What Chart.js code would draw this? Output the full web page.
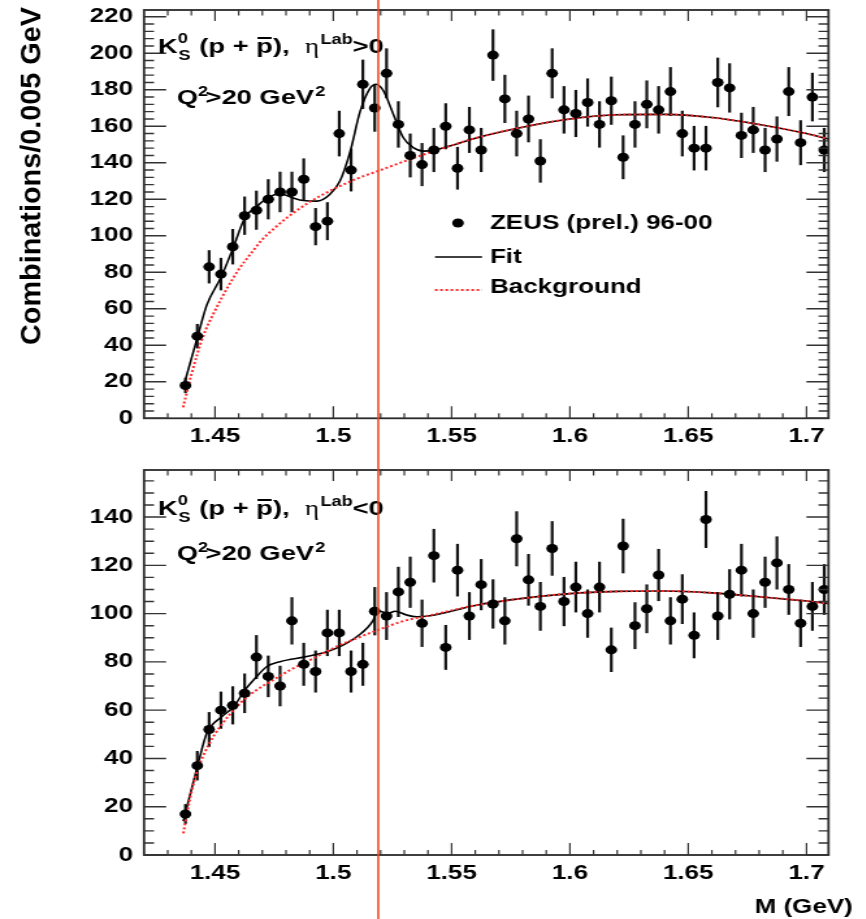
<!DOCTYPE html>
<html>
<head>
<meta charset="utf-8">
<script src="https://cdn.jsdelivr.net/npm/chart.js@4.4.0/dist/chart.umd.min.js"></script>
<style>
  html, body { margin: 0; padding: 0; background: #fff; }
  #page { position: relative; width: 866px; height: 919px; overflow: hidden; background: #fff; }
  .panel { position: absolute; left: 0; width: 666px; transform: scaleX(1.3); transform-origin: 0 0; }
  #panelTop { top: 0; height: 460px; }
  #panelBottom { top: 460px; height: 459px; }
  canvas { display: block; }
</style>
</head>
<body>
<div id="page">
  <div class="panel" id="panelTop"><canvas id="cTop" width="666" height="460"></canvas></div>
  <div class="panel" id="panelBottom"><canvas id="cBottom" width="666" height="459"></canvas></div>
</div>
<script>
// K0s p(pbar) invariant mass, 5 MeV bins
const massBins = [
  1.4375, 1.4425, 1.4475, 1.4525, 1.4575, 1.4625, 1.4675, 1.4725, 1.4775, 1.4825,
  1.4875, 1.4925, 1.4975, 1.5025, 1.5075, 1.5125, 1.5175, 1.5225, 1.5275, 1.5325,
  1.5375, 1.5425, 1.5475, 1.5525, 1.5575, 1.5625, 1.5675, 1.5725, 1.5775, 1.5825,
  1.5875, 1.5925, 1.5975, 1.6025, 1.6075, 1.6125, 1.6175, 1.6225, 1.6275, 1.6325,
  1.6375, 1.6425, 1.6475, 1.6525, 1.6575, 1.6625, 1.6675, 1.6725, 1.6775, 1.6825,
  1.6875, 1.6925, 1.6975, 1.7025, 1.7075
];

// eta_Lab > 0
const countsFwd = [
  18, 45, 83, 79, 94, 111, 114, 120, 124, 124,
  131, 105, 108, 156, 136, 183, 170, 189, 161, 144,
  139, 147, 160, 137, 158, 147, 199, 175, 156, 164,
  141, 189, 169, 167, 173, 161, 174, 143, 161, 172,
  169, 179, 156, 148, 148, 184, 181, 155, 158, 147,
  153, 179, 151, 176, 147
];
const errorsFwd = [
  4.2, 6.7, 9.1, 8.9, 9.7, 10.5, 10.7, 11.0, 11.1, 11.1,
  11.4, 10.2, 10.4, 12.5, 11.7, 13.5, 13.0, 13.7, 12.7, 12.0,
  11.8, 12.1, 12.6, 11.7, 12.6, 12.1, 14.1, 13.2, 12.5, 12.8,
  11.9, 13.7, 13.0, 12.9, 13.2, 12.7, 13.2, 12.0, 12.7, 13.1,
  13.0, 13.4, 12.5, 12.2, 12.2, 13.6, 13.5, 12.4, 12.6, 12.1,
  12.4, 13.4, 12.3, 13.3, 12.1
];
const fitMassFwd = [
  1.4366, 1.4429, 1.4465, 1.4528, 1.4577, 1.4627, 1.4676, 1.4725, 1.4775, 1.4824,
  1.4873, 1.4930, 1.4986, 1.5028, 1.5071, 1.5113, 1.5155, 1.5180, 1.5211, 1.5254,
  1.5296, 1.5338, 1.5380, 1.5423, 1.5500, 1.5600, 1.5800, 1.6000, 1.6200, 1.6400,
  1.6600, 1.6800, 1.7000, 1.7093
];
const fitFwd = [
  17, 46, 62, 78, 93.5, 110, 116, 121, 123, 121,
  119.3, 119, 122.8, 130, 146, 168, 180.7, 183, 179.6, 166.5,
  153.7, 148.3, 146.4, 146.8, 149.5, 153.5, 159.5, 164, 166.3, 166.5,
  164.8, 161, 156, 153
];
const bgMassFwd = [
  1.4365, 1.4400, 1.4450, 1.4500, 1.4550, 1.4600, 1.4650, 1.4700, 1.4750, 1.4800,
  1.4900, 1.5000, 1.5100, 1.5200, 1.5300, 1.5400, 1.5500, 1.5600, 1.5800, 1.6000,
  1.6200, 1.6400, 1.6600, 1.6800, 1.7000, 1.7093
];
const bgFwd = [
  6, 24, 45, 59, 71, 81.5, 90, 98, 104, 109.5,
  118.5, 125.5, 131.3, 136, 140.8, 145.3, 149.5, 153.5, 159.5, 164,
  166.3, 166.5, 164.8, 161, 156, 153
];

// eta_Lab < 0
const countsBwd = [
  17, 37, 52, 60, 62, 67, 82, 74, 70, 97,
  79, 76, 92, 92, 76, 79, 101, 99, 109, 113,
  96, 124, 86, 118, 99, 112, 104, 97, 131, 114,
  103, 127, 105, 111, 100, 111, 85, 128, 95, 102,
  116, 97, 106, 91, 139, 99, 108, 118, 100, 113,
  121, 110, 96, 103, 110
];
const errorsBwd = [
  4.1, 6.1, 7.2, 7.7, 7.9, 8.2, 9.1, 8.6, 8.4, 9.8,
  8.9, 8.7, 9.6, 9.6, 8.7, 8.9, 10.0, 9.9, 10.4, 10.6,
  9.8, 11.1, 9.3, 10.9, 9.9, 10.6, 10.2, 9.8, 11.4, 10.7,
  10.1, 11.3, 10.2, 10.5, 10.0, 10.5, 9.2, 11.3, 9.7, 10.1,
  10.8, 9.8, 10.3, 9.5, 11.8, 9.9, 10.4, 10.9, 10.0, 10.6,
  11.0, 10.5, 9.8, 10.1, 10.5
];
const fitMassBwd = [
  1.4366, 1.4429, 1.4465, 1.4528, 1.4577, 1.4627, 1.4676, 1.4718, 1.4775, 1.4888,
  1.4972, 1.5028, 1.5099, 1.5169, 1.5186, 1.5232, 1.5261, 1.5310, 1.5352, 1.5409,
  1.5600, 1.5800, 1.6000, 1.6200, 1.6400, 1.6600, 1.6800, 1.7000, 1.7093
];
const fitBwd = [
  14, 38, 50.4, 57.3, 61.2, 68.4, 73.9, 78, 80.1, 82.2,
  84.2, 86.3, 90.4, 97.3, 101.2, 100.1, 101, 99.4, 98.7, 99.1,
  103.4, 106.3, 108.3, 109.2, 109.4, 108.6, 107, 105.2, 104.2
];
const bgMassBwd = [
  1.4366, 1.4400, 1.4429, 1.4475, 1.4521, 1.4606, 1.4676, 1.4746, 1.4817, 1.4888,
  1.4958, 1.5028, 1.5099, 1.5169, 1.5310, 1.5380, 1.5600, 1.5800, 1.6000, 1.6200,
  1.6400, 1.6600, 1.6800, 1.7000, 1.7093
];
const bgBwd = [
  9, 26, 36, 46, 53.1, 62.8, 68.4, 72.5, 76.6, 80.1,
  83.6, 87, 89.8, 92.5, 97.3, 98.7, 103.4, 106.3, 108.3, 109.2,
  109.4, 108.6, 107, 105.2, 104.2
];

// axis ticks
const massTicks = [1.45, 1.5, 1.55, 1.6, 1.65, 1.7];
const massTickLabels = ['1.45', '1.5', '1.55', '1.6', '1.65', '1.7'];
const countTicksFwd = [0, 20, 40, 60, 80, 100, 120, 140, 160, 180, 200, 220];
const countTicksBwd = [0, 20, 40, 60, 80, 100, 120, 140];

// nominal signal position (GeV)
const signalMass = 1.519;

const SANS = '"Liberation Sans", Arial, Helvetica, sans-serif';
const STRETCH = 1.3;

function toXY(xs, ys) { return xs.map((x, i) => ({ x: x, y: ys[i] })); }

function put(ctx, text, x, y, font) {
  ctx.font = font;
  ctx.fillText(text, x, y);
  return x + ctx.measureText(text).width;
}

function drawChannelLabel(ctx, x, y, sign) {
  const big = 'bold 21px ' + SANS;
  const small = 'bold 14px ' + SANS;
  const greek = '21px "Liberation Serif", "DejaVu Serif", serif';
  ctx.fillStyle = '#000';
  ctx.textAlign = 'left';
  ctx.textBaseline = 'alphabetic';
  x = put(ctx, 'K', x, y, big);
  const x0 = x;
  const w1 = put(ctx, '0', x0, y - 10, small) - x0;
  const w2 = put(ctx, 'S', x0 + 0.5, y + 7, small) - x0;
  x = x0 + Math.max(w1, w2) + 1;
  x = put(ctx, ' (p + ', x, y, big);
  const pStart = x;
  x = put(ctx, 'p', x, y, big);
  ctx.fillRect(pStart + 1, y - 16, x - pStart - 2, 2);
  x = put(ctx, '),  ', x, y, big);
  x = put(ctx, '\u03B7', x, y, greek);
  x = put(ctx, 'Lab', x + 1, y - 9, small);
  put(ctx, sign + '0', x, y, big);
}

function drawQ2Label(ctx, x, y) {
  const big = 'bold 21px ' + SANS;
  const small = 'bold 14px ' + SANS;
  ctx.fillStyle = '#000';
  ctx.textAlign = 'left';
  ctx.textBaseline = 'alphabetic';
  x = put(ctx, 'Q', x, y, big);
  x = put(ctx, '2', x, y - 8, small) - 2;
  x = put(ctx, '>20 GeV', x, y, big);
  put(ctx, '2', x + 1, y - 8, small);
}

function buildPanel(p) {
  const canvas = document.getElementById(p.canvasId);

  const decor = {
    id: 'decor',
    beforeDatasetsDraw(chart) {
      // statistical error bars
      const ctx = chart.ctx, xs = chart.scales.x, ys = chart.scales.y;
      ctx.save();
      ctx.strokeStyle = '#111';
      ctx.lineWidth = 2.2;
      massBins.forEach((m, i) => {
        const x = xs.getPixelForValue(m);
        ctx.beginPath();
        ctx.moveTo(x, ys.getPixelForValue(p.counts[i] - p.errors[i]));
        ctx.lineTo(x, ys.getPixelForValue(p.counts[i] + p.errors[i]));
        ctx.stroke();
      });
      ctx.restore();
    },
    afterDraw(chart) {
      const ctx = chart.ctx, xs = chart.scales.x, ys = chart.scales.y;
      const a = chart.chartArea;
      ctx.save();

      // frame
      ctx.strokeStyle = '#2a2a2a';
      ctx.lineWidth = 1.8;
      ctx.strokeRect(a.left, a.top, a.right - a.left, a.bottom - a.top);

      // inward ticks on all four sides
      ctx.lineWidth = 1.2;
      ctx.strokeStyle = '#333';
      for (let k = 143; k <= 170; k++) {
        const x = xs.getPixelForValue(k / 100);
        const major = k % 5 === 0;
        ctx.beginPath();
        ctx.moveTo(x, a.bottom); ctx.lineTo(x, a.bottom - (major ? 12 : 5));
        ctx.moveTo(x, a.top); ctx.lineTo(x, a.top + (major ? 11 : 5.5));
        ctx.stroke();
      }
      ctx.lineWidth = 1.4;
      for (let v = 0; v <= p.yMax; v += p.minorStep) {
        const y = ys.getPixelForValue(v);
        const len = (v % 20 === 0) ? 17 : 7.7;
        ctx.beginPath();
        ctx.moveTo(a.left, y); ctx.lineTo(a.left + len, y);
        ctx.moveTo(a.right, y); ctx.lineTo(a.right - len, y);
        ctx.stroke();
      }

      // channel and Q2 labels
      drawChannelLabel(ctx, 121.5, p.labelY, p.etaSign);
      drawQ2Label(ctx, 136, p.q2Y);

      // legend
      if (p.legend) {
        const ds = chart.data.datasets;
        ctx.fillStyle = ds[0].backgroundColor;
        ctx.beginPath();
        ctx.arc(352.3, 223, ds[0].pointRadius, 0, Math.PI * 2);
        ctx.fill();
        ctx.strokeStyle = ds[2].borderColor;
        ctx.lineWidth = ds[2].borderWidth;
        ctx.beginPath(); ctx.moveTo(334.6, 257); ctx.lineTo(370.8, 257); ctx.stroke();
        ctx.strokeStyle = ds[1].borderColor;
        ctx.lineWidth = ds[1].borderWidth;
        ctx.setLineDash(ds[1].borderDash);
        ctx.beginPath(); ctx.moveTo(334.6, 290); ctx.lineTo(370.8, 290); ctx.stroke();
        ctx.setLineDash([]);
        ctx.fillStyle = '#000';
        ctx.font = 'bold 20px ' + SANS;
        ctx.textAlign = 'left';
        ctx.textBaseline = 'alphabetic';
        ctx.fillText(ds[0].label, 376.9, 229);
        ctx.fillText(ds[2].label, 376.9, 262.5);
        ctx.fillText(ds[1].label, 376.9, 293);
      }

      // y-axis title
      if (p.yTitle) {
        ctx.save();
        ctx.translate(25.4, 176);
        ctx.rotate(-Math.PI / 2);
        ctx.font = 'bold 22px ' + SANS;
        const w = ctx.measureText(p.yTitle).width;
        ctx.scale(338 / w, 1);
        ctx.fillStyle = '#000';
        ctx.textAlign = 'center';
        ctx.textBaseline = 'middle';
        ctx.fillText(p.yTitle, 0, 0);
        ctx.restore();
      }

      // x-axis title
      if (p.xTitle) {
        ctx.fillStyle = '#000';
        ctx.font = 'bold 20px ' + SANS;
        ctx.textAlign = 'right';
        ctx.textBaseline = 'alphabetic';
        ctx.fillText(p.xTitle, 656, 453);
      }

      // signal position marker across the full height
      const xs0 = xs.getPixelForValue(signalMass);
      ctx.strokeStyle = '#f2401a';
      ctx.lineWidth = 1.5;
      ctx.beginPath();
      ctx.moveTo(xs0, 0); ctx.lineTo(xs0, chart.height);
      ctx.stroke();

      ctx.restore();
    }
  };

  return new Chart(canvas, {
    type: 'scatter',
    data: {
      datasets: [
        {
          label: 'ZEUS (prel.) 96-00',
          data: toXY(massBins, p.counts),
          backgroundColor: '#000',
          borderColor: '#000',
          pointRadius: 4.5,
          borderWidth: 0,
          order: 0
        },
        {
          label: 'Background',
          data: toXY(p.bgMass, p.bg),
          showLine: true,
          borderColor: '#ff2a2a',
          borderWidth: 2,
          borderDash: [2, 2],
          pointRadius: 0,
          cubicInterpolationMode: 'monotone',
          order: 1
        },
        {
          label: 'Fit',
          data: toXY(p.fitMass, p.fit),
          showLine: true,
          borderColor: '#000',
          borderWidth: 1.6,
          pointRadius: 0,
          cubicInterpolationMode: 'monotone',
          order: 2
        }
      ]
    },
    options: {
      responsive: false,
      animation: false,
      devicePixelRatio: 1,
      events: [],
      layout: { padding: { left: 0, right: 28.7, top: 10, bottom: 0 } },
      plugins: { legend: { display: false }, tooltip: { enabled: false } },
      scales: {
        x: {
          type: 'linear',
          min: 1.42,
          max: 1.7093,
          grid: { display: false, drawTicks: false },
          border: { display: false },
          afterBuildTicks: s => { s.ticks = massTicks.map(v => ({ value: v })); },
          afterFit: s => { s.height = p.xAxisHeight; s.paddingLeft = 0; s.paddingRight = 0; },
          ticks: {
            autoSkip: false,
            maxRotation: 0,
            padding: 6,
            color: '#000',
            font: { family: SANS, weight: 'bold', size: 20 },
            callback: v => massTickLabels[massTicks.indexOf(v)]
          }
        },
        y: {
          type: 'linear',
          min: 0,
          max: p.yMax,
          grid: { display: false, drawTicks: false },
          border: { display: false },
          afterBuildTicks: s => { s.ticks = p.yTicks.map(v => ({ value: v })); },
          afterFit: s => { s.width = 110.8; s.paddingTop = 0; s.paddingBottom = 0; },
          ticks: {
            padding: 8.5,
            color: '#000',
            font: { family: SANS, weight: 'bold', size: 20 },
            callback: v => String(v)
          }
        }
      }
    },
    plugins: [decor]
  });
}

buildPanel({
  canvasId: 'cTop',
  counts: countsFwd, errors: errorsFwd,
  fitMass: fitMassFwd, fit: fitFwd,
  bgMass: bgMassFwd, bg: bgFwd,
  yMax: 223.7, yTicks: countTicksFwd, minorStep: 4,
  xAxisHeight: 41.7,
  etaSign: '>', labelY: 53, q2Y: 104,
  legend: true,
  yTitle: 'Combinations/0.005 GeV'
});

buildPanel({
  canvasId: 'cBottom',
  counts: countsBwd, errors: errorsBwd,
  fitMass: fitMassBwd, fit: fitBwd,
  bgMass: bgMassBwd, bg: bgBwd,
  yMax: 159.5, yTicks: countTicksBwd, minorStep: 5,
  xAxisHeight: 64,
  etaSign: '<', labelY: 55, q2Y: 100,
  legend: false,
  xTitle: 'M (GeV)'
});
</script>
</body>
</html>
